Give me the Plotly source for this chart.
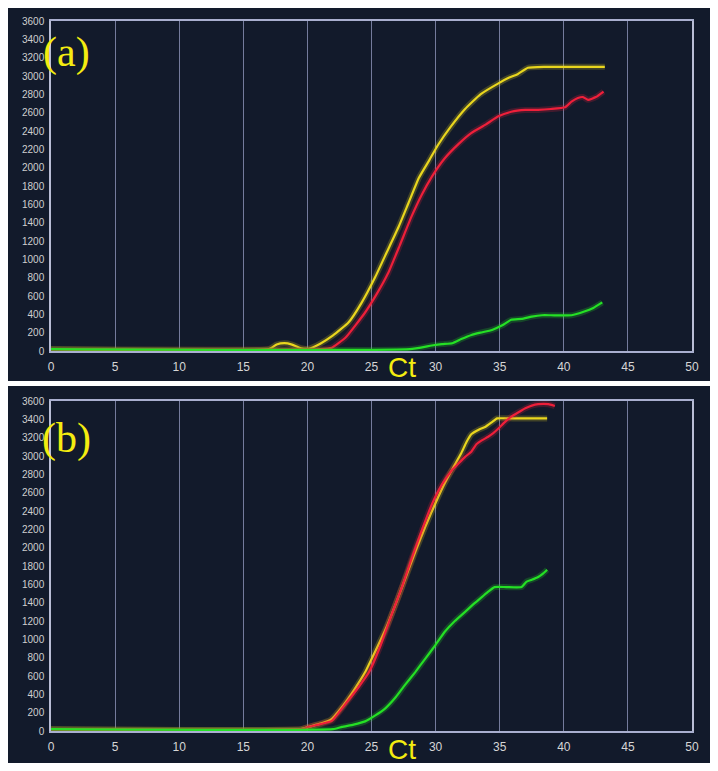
import plotly.graph_objects as go

# ---------------- data ----------------
x_ticks = [0, 5, 10, 15, 20, 25, 30, 35, 40, 45, 50]
y_ticks = list(range(0, 3601, 200))

# Panel (a)
a_yellow_x = [0, 17.0, 17.6, 18.2, 18.8, 19.5, 20.1, 21.0, 22.0, 23.2, 24.2, 25.3, 26.2, 27.1, 27.9,
              28.7, 29.5, 30.2, 31.2, 32.3, 33.5, 34.9, 35.7, 36.4, 37.2, 38.5, 40.0, 41.5, 43.2]
a_yellow_y = [20, 20, 70, 85, 70, 30, 25, 80, 170, 310, 520, 810, 1080, 1350, 1620,
              1890, 2080, 2250, 2450, 2640, 2800, 2920, 2980, 3020, 3090, 3100, 3100, 3100, 3100]

a_red_x = [0, 21.0, 21.9, 23.0, 24.5, 25.4, 26.3, 27.2, 28.1, 28.9, 29.7, 30.7, 31.8, 32.8, 33.9,
           34.9, 35.9, 37.0, 38.0, 39.0, 40.1, 40.6, 41.1, 41.5, 41.9, 42.5, 43.1]
a_red_y = [20, 20, 35, 150, 420, 620, 850, 1150, 1460, 1700, 1900, 2100, 2260, 2380, 2470,
           2560, 2610, 2630, 2630, 2640, 2660, 2720, 2760, 2770, 2740, 2770, 2830]

a_green_x = [0, 28.0, 29.7, 30.5, 31.3, 32.0, 32.8, 33.5, 34.4, 35.2, 35.9, 36.7, 37.5, 38.3,
             39.0, 40.6, 41.6, 42.3, 43.0]
a_green_y = [20, 20, 60, 75, 85, 130, 175, 200, 230, 280, 340, 350, 375, 390,
             390, 390, 430, 470, 530]

# Panel (b)
b_yellow_x = [0, 19.5, 20.1, 21.0, 21.8, 22.8, 23.7, 24.5, 25.3, 26.1, 26.9, 27.6, 28.4, 29.2,
              30.0, 30.7, 31.4, 32.0, 32.4, 32.8, 33.4, 33.9, 34.4, 34.8, 36.0, 37.5, 38.7]
b_yellow_y = [20, 20, 45, 80, 120, 280, 460, 640, 870, 1110, 1390, 1650, 1950, 2230,
              2490, 2700, 2880, 3030, 3150, 3240, 3290, 3320, 3370, 3410, 3410, 3410, 3410]

b_red_x = [0, 19.5, 20.1, 21.0, 21.9, 23.0, 24.0, 24.8, 25.7, 26.6, 27.4, 28.1, 28.9, 29.7, 30.5,
           31.3, 31.8, 32.3, 32.8, 33.2, 33.6, 34.1, 34.5, 34.9, 35.4, 35.9, 36.5, 37.0, 37.5,
           38.0, 38.8, 39.3]
b_red_y = [20, 20, 45, 75, 110, 300, 480, 640, 930, 1280, 1580, 1870, 2180, 2470, 2690,
           2850, 2920, 2990, 3050, 3130, 3170, 3210, 3250, 3300, 3370, 3430, 3480, 3520, 3550,
           3565, 3565, 3545]

b_green_x = [0, 22.0, 22.7, 23.6, 24.5, 25.3, 26.1, 26.9, 27.6, 28.4, 29.2, 30.0, 30.7, 31.5,
             32.3, 33.0, 33.6, 34.1, 34.6, 35.5, 36.7, 37.1, 37.5, 38.0, 38.4, 38.7]
b_green_y = [20, 20, 45, 70, 105, 170, 250, 370, 500, 640, 790, 940, 1080, 1200,
             1300, 1390, 1460, 1520, 1570, 1570, 1570, 1630, 1650, 1680, 1720, 1760]

# ---------------- style ----------------
OFF = 8                      # default page body margin
W, H = 718 - OFF, 771 - OFF
DARK = "#121a2b"
YEL = "#e9d61e"
RED = "#ee1f3a"
GRN = "#25e025"
TXT_YEL = "#f4ec10"


def fx(p):
    return (p - OFF) / W


def fy(p):
    return 1 - (p - OFF) / H


fig = go.Figure()


def add_series(xs, ys, color, xa, ya):
    fig.add_trace(go.Scatter(x=xs, y=ys, mode="lines", xaxis=xa, yaxis=ya,
                             line=dict(color=color, width=6, shape="spline", smoothing=0.4),
                             opacity=0.22, hoverinfo="skip", showlegend=False))
    fig.add_trace(go.Scatter(x=xs, y=ys, mode="lines", xaxis=xa, yaxis=ya,
                             line=dict(color=color, width=2.2, shape="spline", smoothing=0.4),
                             showlegend=False))


add_series(a_yellow_x, a_yellow_y, YEL, "x", "y")
add_series(a_red_x, a_red_y, RED, "x", "y")
add_series(a_green_x, a_green_y, GRN, "x", "y")
add_series(b_yellow_x, b_yellow_y, YEL, "x2", "y2")
add_series(b_red_x, b_red_y, RED, "x2", "y2")
add_series(b_green_x, b_green_y, GRN, "x2", "y2")

xcommon = dict(range=[0, 50], tickvals=x_ticks, ticktext=[str(v) for v in x_ticks],
               showgrid=True, gridcolor="rgba(150,156,195,0.75)", gridwidth=1,
               zeroline=False, showline=True, mirror=True, linecolor="#a9afcf", linewidth=1.5,
               ticks="", tickfont=dict(family="Liberation Sans, Arial", size=12, color="#d6d6d6"),
               ticklabelstandoff=4, fixedrange=True, automargin=False)
ycommon = dict(range=[0, 3600], tickvals=y_ticks, ticktext=[str(v) for v in y_ticks],
               showgrid=False, zeroline=False, showline=True, mirror=True,
               linecolor="#b9bdd5", linewidth=1.5, ticks="",
               tickfont=dict(family="Liberation Sans, Arial", size=10, color="#cfcfcf"),
               ticklabelstandoff=3, fixedrange=True, automargin=False)


def label(text, x, y, size, family):
    return dict(text=text, xref="paper", yref="paper", x=fx(x), y=fy(y),
                xanchor="center", yanchor="middle", showarrow=False,
                font=dict(family=family, size=size, color=TXT_YEL))


fig.update_layout(
    width=W, height=H,
    margin=dict(l=0, r=0, t=0, b=0, pad=0),
    paper_bgcolor="white",
    plot_bgcolor=DARK,
    showlegend=False,
    xaxis=dict(domain=[fx(51), fx(692)], anchor="y", **xcommon),
    yaxis=dict(domain=[fy(351), fy(21)], anchor="x", **ycommon),
    xaxis2=dict(domain=[fx(51), fx(692)], anchor="y2", **xcommon),
    yaxis2=dict(domain=[fy(731), fy(401)], anchor="x2", **ycommon),
    shapes=[
        dict(type="rect", xref="paper", yref="paper", x0=fx(7), x1=fx(710), y0=fy(381), y1=fy(7),
             fillcolor=DARK, line=dict(width=0), layer="below"),
        dict(type="rect", xref="paper", yref="paper", x0=fx(7), x1=fx(710), y0=fy(763), y1=fy(386),
             fillcolor=DARK, line=dict(width=0), layer="below"),
    ],
    annotations=[
        label("(a)", 66, 52, 42, "Liberation Serif, Times New Roman"),
        label("(b)", 66, 438, 42, "Liberation Serif, Times New Roman"),
        label("Ct", 402, 368, 28, "Liberation Sans, Arial"),
        label("Ct", 402, 749, 28, "Liberation Sans, Arial"),
    ],
)

fig.write_html("out.html")
